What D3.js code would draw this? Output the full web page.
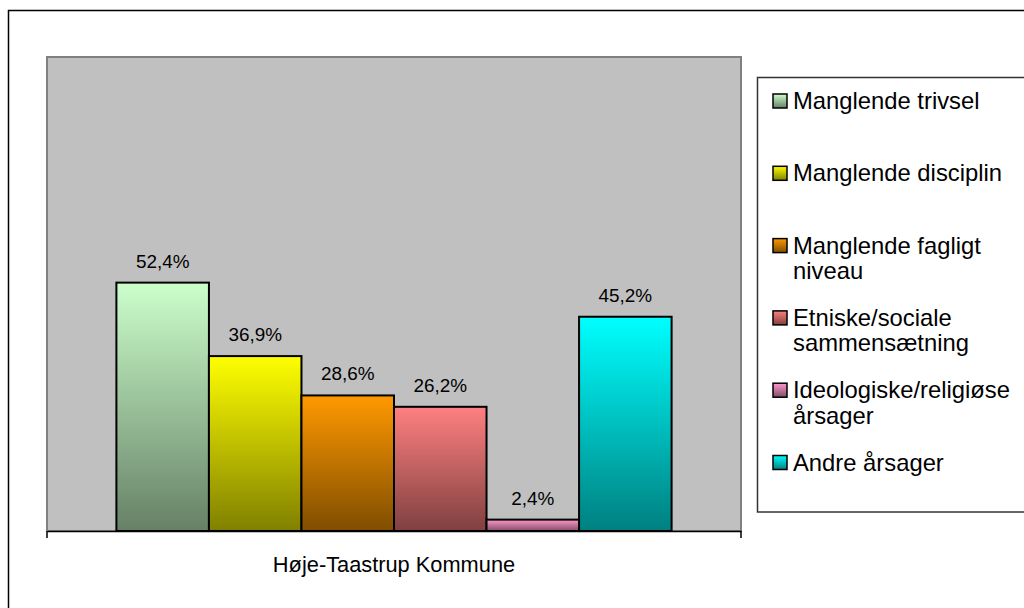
<!DOCTYPE html>
<html>
<head>
<meta charset="utf-8">
<script src="https://cdn.jsdelivr.net/npm/d3@7"></script>
<style>
html,body{margin:0;padding:0;background:#fff;}
svg{display:block;font-family:"Liberation Sans",Arial,sans-serif;}
</style>
</head>
<body>
<svg id="chart" width="1024" height="608"></svg>
<script>
const category = "Høje-Taastrup Kommune";
const seriesNames = [
  ["Manglende trivsel"],
  ["Manglende disciplin"],
  ["Manglende fagligt", "niveau"],
  ["Etniske/sociale", "sammensætning"],
  ["Ideologiske/religiøse", "årsager"],
  ["Andre årsager"]
];
const seriesValues = [52.4, 36.9, 28.6, 26.2, 2.4, 45.2];
const seriesColors = ["#CCFFCC", "#FFFF00", "#FF9900", "#FF8080", "#FF99CC", "#00FFFF"];
const valueLabels = ["52,4%", "36,9%", "28,6%", "26,2%", "2,4%", "45,2%"];

const svg = d3.select("#chart");
const defs = svg.append("defs");

seriesColors.forEach((c, i) => {
  const g = defs.append("linearGradient").attr("id", "grad" + i)
    .attr("x1", 0).attr("y1", 0).attr("x2", 0).attr("y2", 1);
  const dark = d3.rgb(c);
  g.append("stop").attr("offset", "0%").attr("stop-color", c);
  g.append("stop").attr("offset", "100%")
    .attr("stop-color", d3.rgb(dark.r * 0.5, dark.g * 0.5, dark.b * 0.5).formatHex());
});

// outer chart border
svg.append("rect").attr("x", 8.5).attr("y", 10.5).attr("width", 1100).attr("height", 700)
  .attr("fill", "#fff").attr("stroke", "#000").attr("stroke-width", 1.5);

// plot area
const plot = {left: 47, right: 741, top: 57, bottom: 531};
svg.append("rect").attr("x", plot.left).attr("y", plot.top)
  .attr("width", plot.right - plot.left).attr("height", plot.bottom - plot.top)
  .attr("fill", "#C0C0C0").attr("stroke", "#808080").attr("stroke-width", 2);

const y = d3.scaleLinear().domain([0, 100]).range([plot.bottom, plot.top]);
const x0 = d3.scaleBand().domain([category]).range([plot.left, plot.right]).paddingInner(0).paddingOuter(0);
const groupW = x0.bandwidth() * 0.8;
const x1 = d3.scaleBand().domain(d3.range(seriesValues.length))
  .range([x0(category) + (x0.bandwidth() - groupW) / 2, x0(category) + (x0.bandwidth() + groupW) / 2]);

// bars
svg.append("g").selectAll("rect").data(seriesValues).join("rect")
  .attr("x", (d, i) => x1(i))
  .attr("y", d => y(d))
  .attr("width", x1.bandwidth())
  .attr("height", d => y(0) - y(d))
  .attr("fill", (d, i) => `url(#grad${i})`)
  .attr("stroke", "#000").attr("stroke-width", 2);

// value labels
svg.append("g").selectAll("text").data(seriesValues).join("text")
  .attr("x", (d, i) => x1(i) + x1.bandwidth() / 2)
  .attr("y", d => y(d) - 15)
  .attr("text-anchor", "middle")
  .attr("font-size", "18.9px")
  .attr("fill", "#000")
  .text((d, i) => valueLabels[i]);

// category axis
const axis = d3.axisBottom(x0).tickSize(0).tickFormat(() => "");
const axG = svg.append("g").attr("transform", `translate(0,${plot.bottom})`).call(axis);
axG.select(".domain").attr("stroke", "#000").attr("stroke-width", 1.5);
[plot.left, plot.right].forEach(px => {
  axG.append("line").attr("x1", px).attr("x2", px).attr("y1", 0).attr("y2", 7)
    .attr("stroke", "#000").attr("stroke-width", 1.5);
});
svg.append("text")
  .attr("x", x0(category) + x0.bandwidth() / 2)
  .attr("y", 572)
  .attr("text-anchor", "middle")
  .attr("font-size", "21.8px")
  .text(category);

// legend
svg.append("rect").attr("x", 757.5).attr("y", 77.5).attr("width", 400).attr("height", 434.5)
  .attr("fill", "#fff").attr("stroke", "#333").attr("stroke-width", 1.5);

const legendY = d3.scaleLinear().domain([0, seriesNames.length - 1]).range([109, 470.5]);
const items = svg.append("g").selectAll("g").data(seriesNames).join("g")
  .attr("transform", (d, i) => `translate(0,${legendY(i)})`);
items.append("rect").attr("x", 773).attr("y", -15).attr("width", 14).attr("height", 14)
  .attr("fill", (d, i) => `url(#grad${i})`).attr("stroke", "#000").attr("stroke-width", 1.5);
items.append("text").attr("font-size", "23.8px")
  .selectAll("tspan").data(d => d).join("tspan")
  .attr("x", 793).attr("y", (d, j) => j * 25.5)
  .text(d => d);
</script>
</body>
</html>
